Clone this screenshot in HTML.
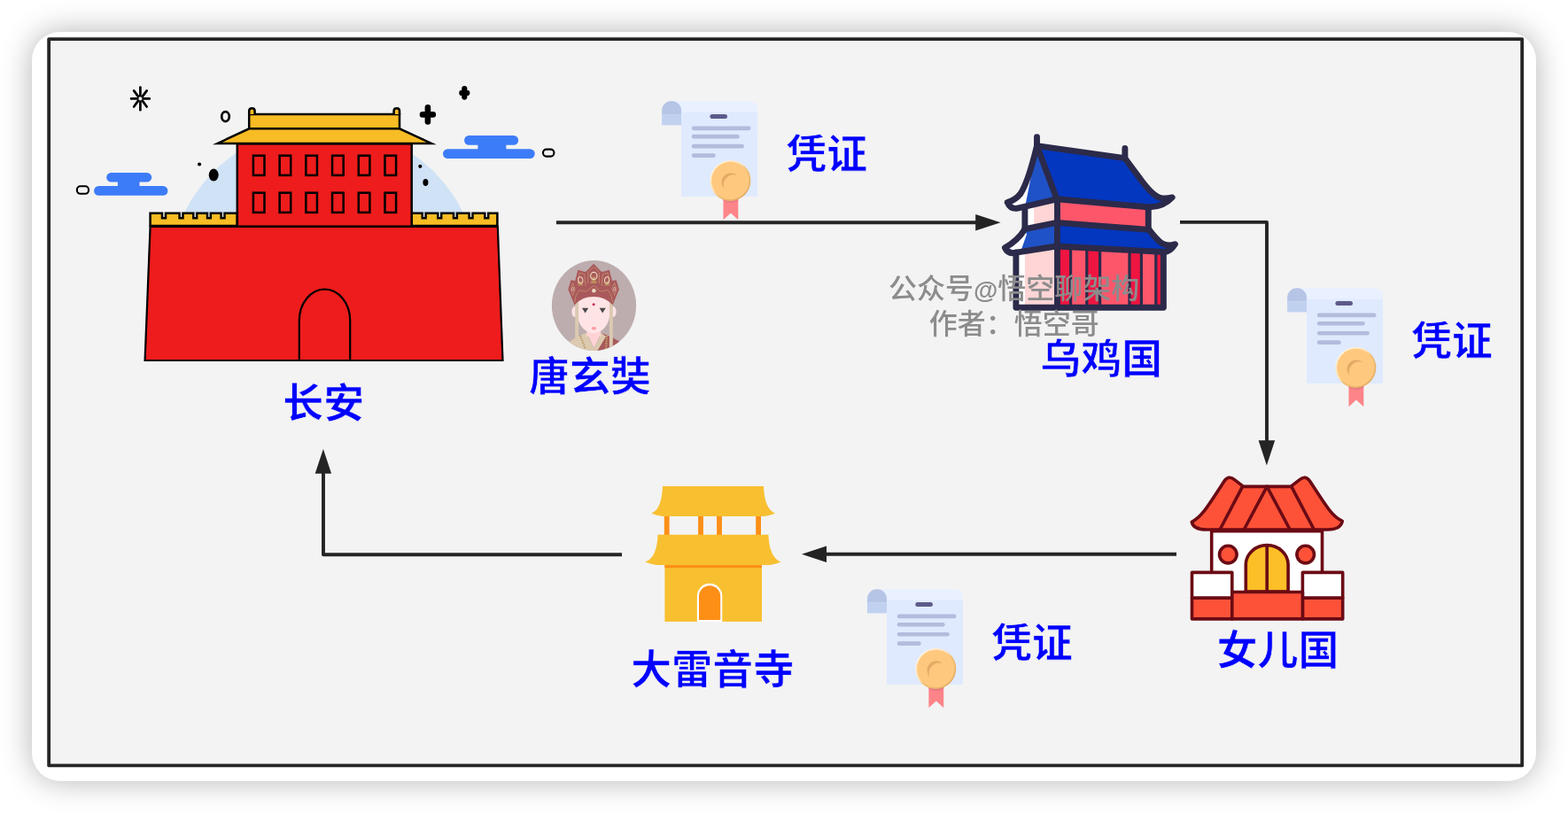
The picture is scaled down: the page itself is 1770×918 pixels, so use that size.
<!DOCTYPE html>
<html lang="zh-CN"><head><meta charset="utf-8"><title>凭证</title>
<style>
html,body{margin:0;padding:0;background:#fff;}
body{width:1770px;height:918px;overflow:hidden;position:relative;font-family:"Liberation Sans", "Noto Sans CJK SC", sans-serif;}
.card{position:absolute;left:36px;top:36px;width:1698px;height:846px;border-radius:32px;background:#fff;box-shadow:0 0 34px rgba(0,0,0,.30);}
svg{position:absolute;left:0;top:0;will-change:transform;}
.lb{font-family:"Liberation Sans", "Noto Sans CJK SC", sans-serif;font-weight:700;font-size:46px;fill:#0000ff;stroke:#f3f3f3;stroke-width:.7px;}
.wm{font-family:"Liberation Sans", "Noto Sans CJK SC", sans-serif;font-weight:500;font-size:32px;fill:#8c8c8c;}
</style></head><body>
<div class="card"></div>
<svg width="1770" height="918" viewBox="0 0 1770 918">

<rect x="55.15" y="44.05" width="1663" height="820.35" fill="#f3f3f3" stroke="#262626" stroke-width="3.8" stroke-linejoin="round"/>
<g id="changan">
<clipPath id="cpsky"><rect x="150" y="100" width="440" height="141"/></clipPath>
<circle cx="365.5" cy="317.5" r="175.3" fill="#cfe2f6" clip-path="url(#cpsky)"/>
<rect x="120.2" y="195.1" width="51" height="10.4" rx="5.3" fill="#3d7cf8"/>
<rect x="106.1" y="210" width="83.3" height="10.8" rx="5.4" fill="#3d7cf8"/>
<rect x="132.9" y="200.3" width="24.6" height="15.1" fill="#3d7cf8"/>
<rect x="524.1" y="152.9" width="61" height="10.8" rx="5.3" fill="#3d7cf8"/>
<rect x="500" y="168.2" width="103.7" height="10.8" rx="5.4" fill="#3d7cf8"/>
<rect x="539.4" y="158.3" width="32" height="15.3" fill="#3d7cf8"/>
<rect x="86.9" y="210.3" width="13.1" height="8.5" rx="3.8" fill="#f3f3f3" stroke="#000" stroke-width="2.1"/>
<rect x="613" y="168.6" width="12.4" height="8" rx="3.8" fill="#f3f3f3" stroke="#000" stroke-width="2.1"/>
<line x1="161.60" y1="111.40" x2="168.70" y2="111.40" stroke="#000" stroke-width="2.7" stroke-linecap="round"/>
<line x1="160.66" y1="113.66" x2="165.68" y2="120.45" stroke="#000" stroke-width="2.7" stroke-linecap="round"/>
<line x1="158.40" y1="114.60" x2="158.40" y2="124.20" stroke="#000" stroke-width="2.7" stroke-linecap="round"/>
<line x1="156.14" y1="113.66" x2="151.12" y2="120.45" stroke="#000" stroke-width="2.7" stroke-linecap="round"/>
<line x1="155.20" y1="111.40" x2="148.10" y2="111.40" stroke="#000" stroke-width="2.7" stroke-linecap="round"/>
<line x1="156.14" y1="109.14" x2="151.12" y2="102.35" stroke="#000" stroke-width="2.7" stroke-linecap="round"/>
<line x1="158.40" y1="108.20" x2="158.40" y2="98.60" stroke="#000" stroke-width="2.7" stroke-linecap="round"/>
<line x1="160.66" y1="109.14" x2="165.68" y2="102.35" stroke="#000" stroke-width="2.7" stroke-linecap="round"/>
<ellipse cx="254.5" cy="131.6" rx="4.3" ry="5.5" fill="none" stroke="#000" stroke-width="2.7"/>
<path d="M482.9 121.4V137.4M477 129.4H488.8" stroke="#000" stroke-width="6.6" stroke-linecap="round" fill="none"/>
<path d="M524.3 100.2V109.6M521.3 104.9H527.3" stroke="#000" stroke-width="6.2" stroke-linecap="round" fill="none"/>
<circle cx="225.1" cy="185.5" r="2.1" fill="#000"/>
<ellipse cx="241.2" cy="197.6" rx="5.5" ry="7" fill="#000"/>
<circle cx="474.3" cy="187.8" r="2.1" fill="#000"/>
<ellipse cx="480.4" cy="205.9" rx="3" ry="4" fill="#000"/>
<path d="M281.2 129H451V145.3H281.2Z" fill="#f8bc24" stroke="#000" stroke-width="2.5"/>
<path d="M281.2 129V125.2Q281.2 122.2 284.4 122.2Q287.6 122.2 287.6 125.2V129" fill="#f8bc24" stroke="#000" stroke-width="2.5"/>
<path d="M444.6 129V125.2Q444.6 122.2 447.8 122.2Q451 122.2 451 125.2V129" fill="#f8bc24" stroke="#000" stroke-width="2.5"/>
<path d="M281.2 145.3H451L487 161.9H245.6Z" fill="#f8bc24" stroke="#000" stroke-width="2.5" stroke-linejoin="miter" stroke-miterlimit="10"/>
<path d="M169.6 255 V240.8 H183 V246.3 H187 V240.8 H202.6 V246.3 H206.5 V240.8 H218.3 V246.3 H222.2 V240.8 H234 V246.3 H237.8 V240.8 H249.6 V246.3 H253.5 V240.8 H267.8 V255 Z" fill="#f8bc24" stroke="#000" stroke-width="2.5"/>
<path d="M464.7 255 V240.8 H476.7 V246.3 H480.6 V240.8 H494.3 V246.3 H498.2 V240.8 H512 V246.3 H515.9 V240.8 H529.6 V246.3 H533.5 V240.8 H547.3 V246.3 H551.2 V240.8 H561.4 V255 Z" fill="#f8bc24" stroke="#000" stroke-width="2.5"/>
<rect x="267.8" y="162.4" width="196.9" height="93.5" fill="#ee1c1c" stroke="#000" stroke-width="2.5"/>
<rect x="285.9" y="175.7" width="12.6" height="22.2" fill="none" stroke="#000" stroke-width="2.5"/>
<rect x="315.62" y="175.7" width="12.6" height="22.2" fill="none" stroke="#000" stroke-width="2.5"/>
<rect x="345.34" y="175.7" width="12.6" height="22.2" fill="none" stroke="#000" stroke-width="2.5"/>
<rect x="375.06" y="175.7" width="12.6" height="22.2" fill="none" stroke="#000" stroke-width="2.5"/>
<rect x="404.78" y="175.7" width="12.6" height="22.2" fill="none" stroke="#000" stroke-width="2.5"/>
<rect x="434.5" y="175.7" width="12.6" height="22.2" fill="none" stroke="#000" stroke-width="2.5"/>
<rect x="285.9" y="217.7" width="12.6" height="22.2" fill="none" stroke="#000" stroke-width="2.5"/>
<rect x="315.62" y="217.7" width="12.6" height="22.2" fill="none" stroke="#000" stroke-width="2.5"/>
<rect x="345.34" y="217.7" width="12.6" height="22.2" fill="none" stroke="#000" stroke-width="2.5"/>
<rect x="375.06" y="217.7" width="12.6" height="22.2" fill="none" stroke="#000" stroke-width="2.5"/>
<rect x="404.78" y="217.7" width="12.6" height="22.2" fill="none" stroke="#000" stroke-width="2.5"/>
<rect x="434.5" y="217.7" width="12.6" height="22.2" fill="none" stroke="#000" stroke-width="2.5"/>
<path d="M169.6 255.9H561.8L567.5 407H163.6Z" fill="#ee1c1c" stroke="#000" stroke-width="2.2"/>
<path d="M337.8 407V362A28.7 35.4 0 0 1 395.2 362V407" fill="none" stroke="#000" stroke-width="2.2"/>
</g>
<g id="arrows" stroke="#242424" stroke-width="3.9" fill="none" stroke-linejoin="round">
<path d="M628 251.2H1104"/>
<path d="M1332 250.9H1430V499"/>
<path d="M1328 625.8H931"/>
<path d="M702 626.2H365V533"/>
</g>
<g fill="#242424">
<path d="M1129.5 251.2L1101.2 241.9V260.5Z"/>
<path d="M1429.9 525.6L1420.6 497.2H1439.2Z"/>
<path d="M905 625.8L933 616.6V635Z"/>
<path d="M364.9 507L355.7 534.8H374.1Z"/>
</g>
<defs><linearGradient id="medg" x1="0.1" y1="0.1" x2="0.9" y2="0.9"><stop offset="0" stop-color="#fff6e6"/><stop offset="0.42" stop-color="#ffe0b0"/><stop offset="0.55" stop-color="#f0bd74"/><stop offset="1" stop-color="#e3aa5e"/></linearGradient><g id="cert">
<path d="M11 0H98Q108 0 108 10V12.6H22V27.2H0V11A11 11 0 0 1 11 0Z" fill="#e9f0ff"/>
<path d="M0 11A11 11 0 0 1 22 11V15H0Z" fill="#b6c5e6"/>
<rect x="0" y="15" width="22" height="12.2" fill="#c0d1ef"/>
<rect x="22" y="12.6" width="86" height="95.2" fill="#dfeaff"/>
<rect x="54.3" y="14.9" width="19.6" height="5" rx="2.5" fill="#5d5a8a"/>
<rect x="33.7" y="28.4" width="66.8" height="4.7" rx="2.35" fill="#b4bbdc"/>
<rect x="33.7" y="37.7" width="54" height="4.7" rx="2.35" fill="#b4bbdc"/>
<rect x="33.7" y="48.7" width="59.1" height="4.7" rx="2.35" fill="#b4bbdc"/>
<rect x="33.7" y="59.1" width="27" height="4.7" rx="2.35" fill="#b4bbdc"/>
<path d="M69.4 108H86.2V134.1L77.8 126.3L69.4 134.1Z" fill="#fd8488"/>
<path d="M69.4 108H86.2V112.5Q77.8 117.5 69.4 112.5Z" fill="#ea7a86"/>
<circle cx="77.3" cy="89.8" r="23" fill="url(#medg)"/>
<circle cx="77.3" cy="89.8" r="21.3" fill="#fec97f"/>
<path d="M85.5 84.2A9.5 9.5 0 1 0 70.5 99A11.5 11.5 0 0 1 85.5 84.2Z" fill="#e3ab66"/>
</g></defs>
<use href="#cert" x="747.1" y="114.1"/>
<use href="#cert" x="1453.1" y="325.2"/>
<use href="#cert" x="979" y="665.2"/>
<g id="wuji" stroke-linejoin="round" stroke-linecap="round">
<!-- body fills -->
<path d="M1147.1 283H1193.5V347.2H1147.1Z" fill="#ffd5d5"/>
<path d="M1147.1 283H1156.9V347.2H1147.1Z" fill="#ffffff"/>
<path d="M1193.5 278H1313.4V347.2H1193.5Z" fill="#fd566b"/>
<g fill="#ee1541">
<rect x="1193.5" y="278" width="15.1" height="69"/>
<rect x="1226.8" y="278" width="14.8" height="69"/>
<rect x="1275" y="278" width="13.4" height="69"/>
<rect x="1304.8" y="278" width="8" height="69"/>
</g>
<g stroke="#2b2a4a" stroke-width="3.2" fill="none" stroke-linecap="butt">
<path d="M1208.6 279V346M1226.8 279V346M1241.6 280V346M1275 282V346M1288.4 282V346M1304.8 283V346"/>
</g>
<!-- upper wall fills -->
<path d="M1156.9 233L1193.5 225V251L1156.9 258.7Z" fill="#ffd5d5"/>
<path d="M1156.9 233L1167.2 230.8V256.5L1156.9 258.7Z" fill="#ffffff"/>
<path d="M1193.5 225L1296.3 234V259.4L1193.5 251.4Z" fill="#fd566b"/>
<!-- lower roof fills -->
<path d="M1156.9 258.7L1193.5 251.4V278L1147 285L1133.5 280Q1147 275 1156.9 258.7Z" fill="#1f52c6"/>
<path d="M1157 260Q1149.5 273.5 1138 280L1147 284L1152.5 283L1159 264.5Z" fill="#ffffff"/>
<path d="M1193.5 251.4L1297.1 259.4Q1312 278 1326.5 275.7Q1322 285 1312 284.5L1193.5 278Z" fill="#0437c0"/>
<!-- upper roof fills -->
<path d="M1170.5 165.5L1269.9 178.7Q1293 209 1303 219Q1311 226 1325.5 222.5Q1312 235 1295.4 233.7L1193 224.8Z" fill="#0437c0"/>
<path d="M1170.5 165.5L1193 224.8L1147.6 235.3L1136 229Q1150 223 1156 207Z" fill="#1f52c6"/>
<path d="M1168.9 174Q1161 205 1154 217Q1149 225 1140 229L1147.6 233.8L1157.5 231.4Z" fill="#ffffff"/>
<!-- strokes -->
<g stroke="#2b2a4a" stroke-width="6.9" fill="none">
<path d="M1146.9 285V347.2H1313.4V285"/>
<path d="M1193.5 225V347.2"/>
<path d="M1156.9 235V258"/>
<path d="M1296.3 236V259"/>
<!-- upper roof -->
<path d="M1170.5 154.6V164.7L1269.9 178.7V167.4"/>
<path d="M1170.5 164.7C1167.5 177 1164.2 189 1160.8 199C1158 207 1155.4 213.6 1151.8 219C1147.7 224 1143.5 226.6 1137.2 228.6Q1140.5 236 1147.6 235.3L1193 224.8L1295.4 233.7Q1312 234.8 1323.2 222.9Q1315 225.2 1308.6 223Q1299.5 219.5 1285.3 199.5L1269.9 178.7"/>
<path d="M1170.5 164.7L1193 224.8"/>
<!-- lower roof -->
<path d="M1156.9 258.7L1193 251.4L1297.1 259.4"/>
<path d="M1156.9 258.7Q1149.5 271 1134.4 279.8Q1137.5 286.4 1144.2 285.6L1192.6 278L1314.1 284.5Q1321 284.6 1326.4 275.8Q1318 278.5 1311.5 274.8Q1305.5 270.5 1297.1 259.4"/>
</g>
</g>

<g id="avatar">
<clipPath id="cpav"><ellipse cx="670.5" cy="345" rx="47.6" ry="50.9"/></clipPath>
<ellipse cx="670.5" cy="345" rx="47.6" ry="50.9" fill="#bdadae"/>
<g clip-path="url(#cpav)">
<!-- robe -->
<path d="M640 388Q650 380 662 376L670 396L640 400Z" fill="#dccab0"/>
<path d="M679 376Q690 380 700 386L700 400H670Z" fill="#a85a5a"/>
<path d="M662 376L670.5 394L679 376L684 380L672 400H668L655 379Z" fill="#dccab0"/>
<path d="M663 377H678L670.5 393Z" fill="#ffd3d6"/>
<path d="M655 379L661 394" stroke="#b8935c" stroke-width="2" stroke-dasharray="1.5 1.2" fill="none"/>
<path d="M685 379L684 394" stroke="#c9a56a" stroke-width="2" stroke-dasharray="1.5 1.2" fill="none"/>
<!-- neck -->
<rect x="662.3" y="368" width="16" height="12" fill="#ffd3d6"/>
<!-- ears -->
<ellipse cx="648.8" cy="352" rx="3.4" ry="6" fill="#ffe4e6"/>
<ellipse cx="692.2" cy="352" rx="3.4" ry="6" fill="#ffe4e6"/>
<!-- face -->
<path d="M651.8 340Q651.8 333 670 333Q688.2 333 688.2 340V354C688.2 366 680 376 670.1 376C660 376 651.8 366 651.8 354Z" fill="#ffe4e6"/>
<!-- ribbons -->
<rect x="649.2" y="340" width="3.9" height="60" fill="#dbc9b2"/>
<rect x="687.9" y="340" width="3.9" height="60" fill="#dbc9b2"/>
<!-- crown -->
<path d="M648.6 344.6L641.3 326.7L644.5 316.3L649.2 317L652.4 304.8L660.3 307L662.2 306L670.1 297.8L678 306L679.9 307L687.8 304.8L691 317L695.7 316.3L698.9 326.7L691.6 344.6C686 338 678 335 670.1 335C662 335 654 338 648.6 344.6Z" fill="#a9595b"/>
<g fill="none" stroke="#c79a72" stroke-width="0.7">
<path d="M648.8 341L650 334L654 327.5L661.5 329.2L670.1 322.4L678.7 329.2L686.2 327.5L690.2 334L691.4 341"/>
<path d="M663.8 320V307.5L670.1 301.2L676.4 307.5V320"/>
<path d="M652 322.5L654.2 308L659.8 309.6L661 323"/>
<path d="M688.2 322.5L686 308L680.4 309.6L679.2 323"/>
<path d="M646.7 319.5L644 326.5L646.7 333.5L649.4 326.5Z"/>
<path d="M693.5 319.5L690.8 326.5L693.5 333.5L696.2 326.5Z"/>
</g>
<path d="M668.4 312.5H671.8L672.6 317L674 320H666.2L667.6 317Z" fill="#bd8a5e"/>
<path d="M654.2 317.5H656.6L658.4 322.5H653Z" fill="#bd8a5e"/>
<path d="M684 317.5H686.4L687.6 322.5H682.2Z" fill="#bd8a5e"/>
<ellipse cx="670.3" cy="311.4" rx="3.7" ry="4" fill="none" stroke="#f0ddc0" stroke-width="1.2"/>
<ellipse cx="655.3" cy="316.4" rx="2.6" ry="3.6" fill="none" stroke="#f0ddc0" stroke-width="1" transform="rotate(-10 655.3 316.4)"/>
<ellipse cx="685.1" cy="316.4" rx="2.6" ry="3.6" fill="none" stroke="#f0ddc0" stroke-width="1" transform="rotate(10 685.1 316.4)"/>
<ellipse cx="646.7" cy="326.5" rx="1.1" ry="2.2" fill="none" stroke="#e8cfc0" stroke-width="0.8"/>
<ellipse cx="693.7" cy="326.5" rx="1.1" ry="2.2" fill="none" stroke="#e8cfc0" stroke-width="0.8"/>
<circle cx="670.4" cy="328.3" r="2.3" fill="#ecd8bc"/>
<!-- face details -->
<circle cx="670.1" cy="343.7" r="1.5" fill="#c8304f"/>
<path d="M657 347.8H664.2L660.6 353.6Z" fill="#4a4a4a"/>
<path d="M676.6 347.8H683.8L680.2 353.6Z" fill="#4a4a4a"/>
<ellipse cx="670.4" cy="370.7" rx="2.7" ry="1.7" fill="#ff9ba1"/>
</g>
</g>

<g id="house" stroke="#6b0a14" stroke-width="3.6" stroke-linejoin="round" stroke-linecap="round">
<rect x="1367.7" y="599.6" width="124.8" height="70" fill="#ffffff"/>
<path d="M1345.3 589.3C1356 584 1362 574 1381.5 544Q1386.6 535.8 1393.5 541.6L1403.5 549.4H1457.1L1467.1 541.6Q1474 535.8 1479.1 544C1498.6 574 1504.6 584 1515.3 588.3Q1513.6 598 1498.6 598H1362Q1347 598 1345.3 589.3Z" fill="#fd5238"/>
<path d="M1430.2 549.4L1404.8 597M1430.2 549.4L1455.6 597M1402.6 549.4L1377.6 597M1457.8 549.4L1482.8 597" fill="none"/>
<circle cx="1386.3" cy="626.1" r="9.8" fill="#fd5238"/>
<circle cx="1473.7" cy="626.1" r="9.8" fill="#fd5238"/>
<path d="M1406.3 668V637.6A23.9 22 0 0 1 1454.1 637.6V668Z" fill="#fdbf27"/>
<path d="M1430.2 616V668" fill="none"/>
<rect x="1345.5" y="646.4" width="45.3" height="28.9" fill="#ffffff"/>
<rect x="1470.4" y="646.4" width="45.3" height="28.9" fill="#ffffff"/>
<rect x="1345.5" y="675.3" width="45.3" height="23.6" fill="#fd5238"/>
<rect x="1470.4" y="675.3" width="45.3" height="23.6" fill="#fd5238"/>
<rect x="1390.8" y="668.5" width="79.6" height="30.4" fill="#fd5238"/>
</g>

<g id="gold">
<g fill="#fd8f17">
<rect x="749.8" y="582" width="5.8" height="23"/>
<rect x="788.1" y="582" width="5.8" height="23"/>
<rect x="809.1" y="582" width="5.8" height="23"/>
<rect x="853.2" y="582" width="5.8" height="23"/>
</g>
<path d="M748 548.9H862Q863 575 875 579.4Q868 583.1 856 583.1H754Q742 583.1 735.4 579.4Q747 575 748 548.9Z" fill="#f8c030"/>
<rect x="750.4" y="636" width="109.6" height="65.9" fill="#f8c030"/>
<rect x="750.4" y="638.1" width="109.6" height="3.1" fill="#fd8f17"/>
<path d="M742.6 603.7H867.4Q868.5 630 881.6 634.4Q874 638.1 862 638.1H748Q736 638.1 728.4 634.4Q741.5 630 742.6 603.7Z" fill="#f8c030"/>
<path d="M786.9 701.9V673A14.2 14.3 0 0 1 815.3 673V701.9Z" fill="#ffffff"/>
<path d="M789 700V673.5A12.1 12.2 0 0 1 813.2 673.5V700Z" fill="#fd8f17"/>
</g>

<text class="lb" x="365.3" y="470.8" text-anchor="middle">长安</text>
<text class="lb" x="666" y="440.8" text-anchor="middle">唐玄奘</text>
<text class="lb" x="1243.2" y="420.9" text-anchor="middle">乌鸡国</text>
<text class="lb" x="1442.4" y="749.8" text-anchor="middle">女儿国</text>
<text class="lb" x="804.2" y="771.8" text-anchor="middle">大雷音寺</text>
<text class="lb" x="933.2" y="190.1" text-anchor="middle">凭证</text>
<text class="lb" x="1639.1" y="401.3" text-anchor="middle">凭证</text>
<text class="lb" x="1164.9" y="742" text-anchor="middle">凭证</text>
<text class="wm" x="1144.7" y="336.9" text-anchor="middle">公众号<tspan font-size="28" font-weight="700">@</tspan>悟空聊架构</text>
<text class="wm" x="1144.7" y="376.9" text-anchor="middle">作者：悟空哥</text>
</svg></body></html>
